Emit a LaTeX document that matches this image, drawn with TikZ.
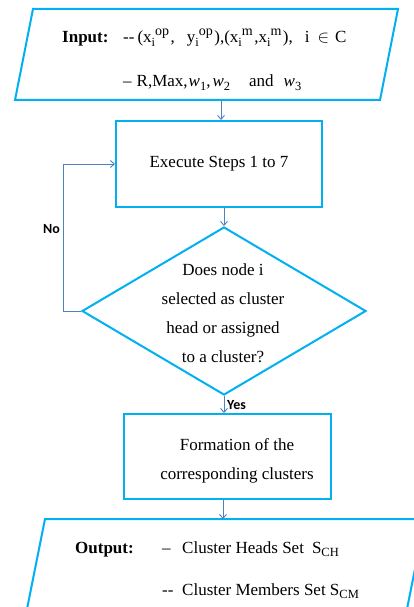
\documentclass[tikz,border=0pt]{standalone}
\usepackage{fontspec}
\setmainfont{Liberation Serif}
\newfontfamily\lblfont{Carlito}
\usetikzlibrary{arrows.meta,shapes.geometric}
\definecolor{boxblue}{RGB}{0,176,240}
\definecolor{linkblue}{RGB}{79,129,189}
\newcommand{\sub}[1]{\raisebox{-3.5pt}{\fontsize{12.5}{13}\selectfont #1}}
\newcommand{\sups}[1]{\raisebox{7pt}{\fontsize{14}{15}\selectfont #1}}
\begin{document}
\begin{tikzpicture}[x=1pt,y=-1pt,
  boxline/.style={draw=boxblue,line width=2pt},
  link/.style={draw=linkblue,line width=0.9pt,-{Straight Barb[length=4pt,width=7pt]}},
  txt/.style={font=\fontsize{17}{29}\selectfont, inner sep=0pt, anchor=base west},
  ctxt/.style={font=\fontsize{17}{29}\selectfont, inner sep=0pt, align=center},
  lbl/.style={font=\lblfont\bfseries\fontsize{14}{16}\selectfont, inner sep=0pt, anchor=base west}]
\useasboundingbox (0,0) rectangle (414,607);
\clip (0,0) rectangle (414,607);
% shapes
\draw[boxline] (33,9) -- (398,9) -- (380,100) -- (15,100) -- cycle;
\coordinate (inbot) at (221,100);
\node (exec) [boxline, rectangle, minimum width=206, minimum height=86, inner sep=0pt,
  font=\fontsize{17}{29}\selectfont] at (219,164) {Execute Steps 1 to 7};
\node (dec) [boxline, diamond, minimum width=284, minimum height=168, inner sep=0pt] at (224,311) {};
\node (form) [boxline, rectangle, minimum width=207, minimum height=85, inner sep=0pt] at (227.5,456.5) {};
\draw[boxline] (45,519) -- (425,519) -- (404,624) -- (24,624) -- cycle;
\coordinate (outtop) at (223,519);
% texts
\node (inlbl) [txt] at (62,43) {\textbf{Input:}};
\node (in1) [txt] at (123,43) {-{}-\hspace{3pt}(x\sub{i}\sups{op}\hspace{1.5pt},\hspace{12pt}y\sub{i}\sups{op}\hspace{1.5pt}),(x\sub{i}\sups{m}\hspace{1.5pt},x\sub{i}\sups{m}\hspace{1.5pt}),\hspace{12pt}i\hspace{8pt}$\in$\hspace{6pt}C};
\node (in2) [txt] at (123,87) {–\hspace{5pt}R,Max,\hspace{1pt}\textit{w}\sub{1},\hspace{2pt}\textit{w}\sub{2}\hspace{19pt}and\hspace{10pt}\textit{w}\sub{3}};
\node (dectxt) [ctxt] at (223,313) {Does node i\\selected as cluster\\head or assigned\\to a cluster?};
\node (formtxt) [ctxt] at (237,460.5) {Formation of the\\corresponding clusters};
\node (outlbl) [txt] at (75,553) {\textbf{Output:}};
\node (out1) [txt] at (162,553) {\makebox[20pt][l]{–}Cluster Heads Set\hspace{8pt}S\sub{CH}};
\node (out2) [txt] at (162,595) {\makebox[20pt][l]{-{}-}Cluster Members Set S\sub{CM}};
\node (no) [lbl] at (43,233) {No};
\node (yes) [lbl] at (227,409) {Yes};
% connectors
\draw[link] (inbot) -- (inbot |- exec.north);
\draw[link] (dec.north |- exec.south) -- (dec.north);
\draw[link] (dec.west) -- ++(-18,0) |- (exec.west);
\draw[link] (dec.south) -- (dec.south |- form.north);
\draw[link] (outtop |- form.south) -- (outtop);
\end{tikzpicture}
\end{document}
